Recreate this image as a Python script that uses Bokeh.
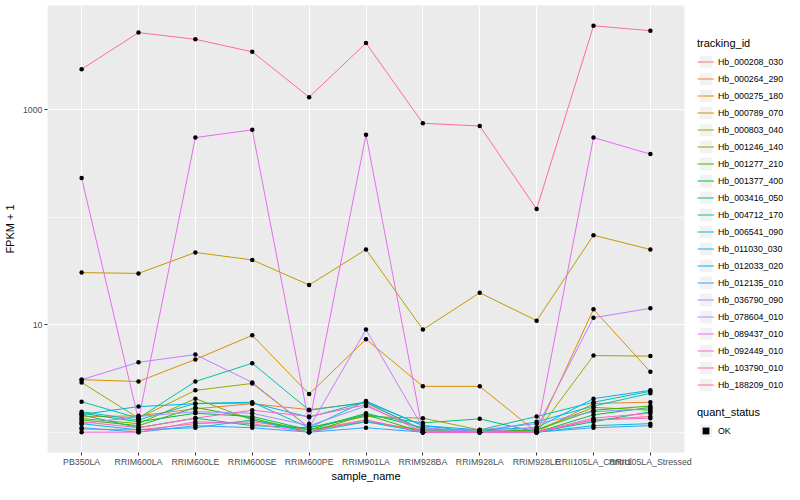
import math
from bokeh.plotting import figure
from bokeh.layouts import row
from bokeh.models import (ColumnDataSource, FixedTicker, Legend, LegendItem,
                          FactorRange, Range1d, BasicTickFormatter)
from bokeh.embed import file_html
from bokeh.resources import INLINE

samples = ["PB350LA", "RRIM600LA", "RRIM600LE", "RRIM600SE", "RRIM600PE",
           "RRIM901LA", "RRIM928BA", "RRIM928LA", "RRIM928LE",
           "RRII105LA_Control", "RRII105LA_Stressed"]

tracking_ids = ["Hb_000208_030", "Hb_000264_290", "Hb_000275_180", "Hb_000789_070",
                "Hb_000803_040", "Hb_001246_140", "Hb_001277_210", "Hb_001377_400",
                "Hb_003416_050", "Hb_004712_170", "Hb_006541_090", "Hb_011030_030",
                "Hb_012033_020", "Hb_012135_010", "Hb_036790_090", "Hb_078604_010",
                "Hb_089437_010", "Hb_092449_010", "Hb_103790_010", "Hb_188209_010"]

# FPKM + 1 per sample (order of `samples`)
hb_000208_030 = [1.07, 1.05, 1.20, 1.25, 1.05, 1.30, 1.00, 1.00, 1.00, 1.30, 1.40]
hb_000264_290 = [1.39, 1.42, 1.65, 1.84, 1.62, 1.87, 1.05, 1.05, 1.00, 1.85, 1.90]
hb_000275_180 = [3.08, 2.96, 4.75, 7.96, 2.26, 7.33, 2.67, 2.67, 1.00, 13.9, 3.64]
hb_000789_070 = [30.5, 30.0, 47.0, 40.0, 23.4, 50.0, 9.0, 19.8, 10.9, 68.0, 50.0]
hb_000803_040 = [2.90, 1.35, 2.45, 2.84, 1.10, 1.40, 1.35, 1.05, 1.00, 5.16, 5.10]
hb_001246_140 = [1.34, 1.20, 2.05, 1.30, 1.05, 1.25, 1.05, 1.00, 1.05, 1.70, 1.60]
hb_001277_210 = [1.30, 1.15, 1.70, 1.35, 1.00, 1.45, 1.00, 1.00, 1.05, 1.60, 1.75]
hb_001377_400 = [1.50, 1.25, 1.50, 1.40, 1.05, 1.50, 1.10, 1.00, 1.00, 1.45, 1.70]
hb_003416_050 = [1.45, 1.10, 1.35, 1.15, 1.10, 1.45, 1.22, 1.33, 1.00, 1.25, 1.55]
hb_004712_170 = [1.92, 1.35, 2.96, 4.38, 1.60, 1.90, 1.05, 1.05, 1.40, 1.90, 2.40]
hb_006541_090 = [1.55, 1.30, 1.85, 1.90, 1.10, 1.95, 1.15, 1.00, 1.25, 1.75, 2.30]
hb_011030_030 = [1.20, 1.05, 1.10, 1.30, 1.00, 1.25, 1.00, 1.00, 1.00, 1.15, 1.20]
hb_012033_020 = [1.46, 1.73, 1.84, 1.87, 1.38, 1.92, 1.15, 1.05, 1.10, 2.05, 2.45]
hb_012135_010 = [1.10, 1.00, 1.15, 1.10, 1.00, 1.10, 1.00, 1.00, 1.00, 1.10, 1.15]
hb_036790_090 = [1.20, 1.40, 1.55, 1.50, 1.15, 1.75, 1.05, 1.05, 1.20, 1.55, 1.65]
hb_078604_010 = [3.08, 4.47, 5.27, 2.90, 1.10, 9.00, 1.10, 1.00, 1.10, 11.6, 14.2]
hb_089437_010 = [231.0, 1.30, 550.0, 649.0, 1.20, 585.0, 1.00, 1.00, 1.00, 550.0, 386.0]
hb_092449_010 = [1.00, 1.00, 1.25, 1.20, 1.00, 1.30, 1.00, 1.00, 1.00, 1.30, 1.35]
hb_103790_010 = [1.25, 1.10, 1.35, 1.60, 1.40, 1.80, 1.00, 1.00, 1.00, 1.35, 1.50]
hb_188209_010 = [2380.0, 5210.0, 4515.0, 3450.0, 1308.0, 4160.0, 748.0, 704.0, 119.0, 6025.0, 5430.0]

series = [hb_000208_030, hb_000264_290, hb_000275_180, hb_000789_070, hb_000803_040,
          hb_001246_140, hb_001277_210, hb_001377_400, hb_003416_050, hb_004712_170,
          hb_006541_090, hb_011030_030, hb_012033_020, hb_012135_010, hb_036790_090,
          hb_078604_010, hb_089437_010, hb_092449_010, hb_103790_010, hb_188209_010]

colors = ["#F8766D", "#EA8331", "#D89000", "#C09B00", "#A3A500", "#7CAE00", "#39B600",
          "#00BB4E", "#00BF7D", "#00C1A3", "#00BFC4", "#00BAE0", "#00B0F6", "#35A2FF",
          "#9590FF", "#C77CFF", "#E76BF3", "#FA62DB", "#FF62BC", "#FF6C91"]

quant_status = ["OK"]

FONT = "Liberation Sans"
H = 484

all_vals = [v for s in series for v in s]
lo, hi = math.log10(min(all_vals)), math.log10(max(all_vals))
pad = 0.05 * (hi - lo)

p = figure(x_range=FactorRange(*samples, range_padding=0.1, range_padding_units="absolute"),
           y_axis_type="log", y_range=Range1d(10 ** (lo - pad), 10 ** (hi + pad)),
           width=697, height=H, output_backend="svg", toolbar_location=None,
           min_border_left=45, min_border_right=13, min_border_top=5, min_border_bottom=24,
           background_fill_color="#EBEBEB", border_fill_color="white",
           outline_line_color=None)

# grids
p.xgrid.grid_line_color = "white"
p.xgrid.grid_line_width = 1.1
p.ygrid.ticker = FixedTicker(ticks=[10, 1000], minor_ticks=[1, 100])
p.ygrid.grid_line_color = "white"
p.ygrid.grid_line_width = 1.1
p.ygrid.minor_grid_line_color = "white"
p.ygrid.minor_grid_line_width = 0.55

# axes
for ax in (p.xaxis[0], p.yaxis[0]):
    ax.axis_line_color = None
    ax.major_tick_line_color = "#333333"
    ax.major_tick_line_width = 1
    ax.major_tick_in = 0
    ax.major_tick_out = 3
    ax.minor_tick_line_color = None
    ax.major_label_text_font = FONT
    ax.major_label_text_font_size = "8.8px"
    ax.major_label_text_color = "#4D4D4D"
    ax.major_label_standoff = 1
    ax.axis_label_text_font = FONT
    ax.axis_label_text_font_size = "11px"
    ax.axis_label_text_font_style = "normal"
    ax.axis_label_text_color = "black"
    ax.axis_label_standoff = 0

p.xaxis.axis_label = "sample_name"
p.yaxis.axis_label = "FPKM + 1"
p.yaxis.ticker = FixedTicker(ticks=[10, 1000])
p.yaxis.formatter = BasicTickFormatter()
p.yaxis.axis_label_standoff = 4
p.yaxis.major_label_standoff = 2

sources = []
for vals, c in zip(series, colors):
    src = ColumnDataSource(dict(x=samples, y=vals))
    sources.append(src)
    p.line(x="x", y="y", source=src, line_color=c, line_width=1)

for src in sources:
    p.scatter(x="x", y="y", source=src, size=4.5, fill_color="black", line_color=None)

# ---- legend panel ----
lg = figure(width=87, height=H, output_backend="svg", toolbar_location=None,
            x_range=Range1d(0, 1), y_range=Range1d(0, 1),
            x_axis_location=None, y_axis_location=None,
            min_border_left=0, min_border_right=0, min_border_top=0, min_border_bottom=0,
            background_fill_color="white", border_fill_color="white",
            outline_line_color=None)
lg.grid.visible = False

key_bg = lg.quad(left=[-6], right=[-5], top=[-5], bottom=[-6], fill_color="#F2F2F2",
                 line_color="white", line_width=1)
key_lines = [lg.line(x=[-5, -4], y=[-5, -4], line_color=c, line_width=1) for c in colors]
key_dot = lg.scatter(x=[-5], y=[-5], size=4.5, marker="square",
                     fill_color="black", line_color=None)


def style_legend(l):
    l.title_text_font = FONT
    l.title_text_font_size = "11px"
    l.title_text_font_style = "normal"
    l.title_text_color = "black"
    l.title_standoff = 4
    l.label_text_font = FONT
    l.label_text_font_size = "8.8px"
    l.label_text_color = "black"
    l.glyph_width = 17
    l.glyph_height = 17
    l.label_height = 17
    l.spacing = 0
    l.padding = 0
    l.margin = 0
    l.label_standoff = 4
    l.border_line_color = None
    l.background_fill_alpha = 0


legend1 = Legend(items=[LegendItem(label=t, renderers=[key_bg, r])
                        for t, r in zip(tracking_ids, key_lines)],
                 title="tracking_id", location=(0, 59))
style_legend(legend1)
lg.add_layout(legend1)

legend2 = Legend(items=[LegendItem(label=q, renderers=[key_bg, key_dot])
                        for q in quant_status],
                 title="quant_status", location=(0, 13))
style_legend(legend2)
lg.add_layout(legend2)

layout = row(p, lg, spacing=0)
open("out.html", "w").write(file_html(layout, INLINE))
